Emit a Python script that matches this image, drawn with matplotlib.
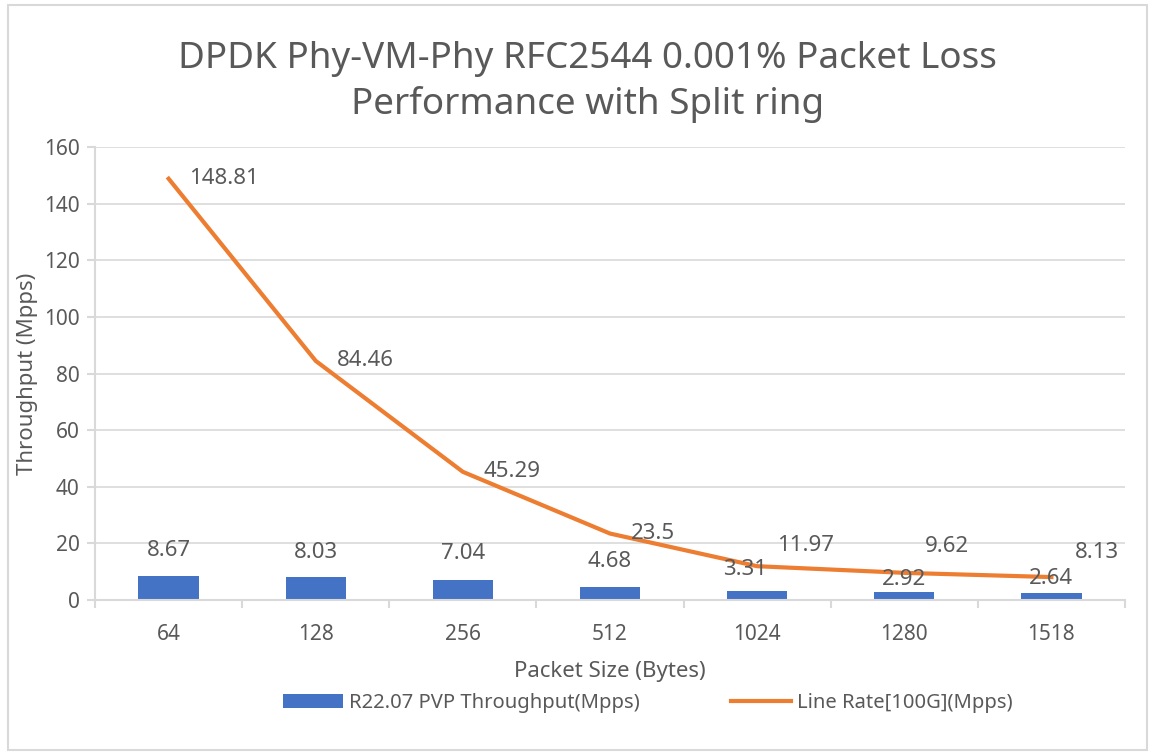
import matplotlib.pyplot as plt
from matplotlib.patches import Rectangle

plt.rcParams['font.family'] = ['Noto Sans', 'DejaVu Sans']

packet_sizes = ["64", "128", "256", "512", "1024", "1280", "1518"]
throughput = [8.67, 8.03, 7.04, 4.68, 3.31, 2.92, 2.64]
line_rate = [148.81, 84.46, 45.29, 23.5, 11.97, 9.62, 8.13]

text_color = '#595959'
grid_color = '#D9D9D9'
bar_color = '#4472C4'
line_color = '#ED7D31'

fig = plt.figure(figsize=(11.55, 7.52), dpi=100)
ax = fig.add_axes([0.0823, 0.202, 0.8917, 0.6025])

x = range(len(packet_sizes))
rects = ax.bar(x, throughput, width=0.41, color=bar_color, zorder=2,
               label='R22.07 PVP Throughput(Mpps)')
ax.plot(x, line_rate, color=line_color, linewidth=3, zorder=3,
        label='Line Rate[100G](Mpps)')

# data labels (offsets in points, tweaked like the original chart)
bar_offsets = [(0, 18), (0, 18), (0, 19), (0, 18), (-9, 15), (0, 9), (0, 10)]
for i, rect in enumerate(rects):
    ax.annotate(f'{throughput[i]:g}',
                xy=(rect.get_x() + rect.get_width() / 2, rect.get_height()),
                xytext=bar_offsets[i], textcoords='offset points',
                ha='center', va='center', fontsize=16, color=text_color, zorder=4)

line_offsets = [(15, 0), (15, 0), (15, 0), (15, 0), (14, 15), (15, 19), (17, 18)]
for i, v in enumerate(line_rate):
    ax.annotate(f'{v:g}', xy=(i, v), xytext=line_offsets[i],
                textcoords='offset points', ha='left', va='center',
                fontsize=16, color=text_color, zorder=4)

ax.set_xlim(-0.5, len(packet_sizes) - 0.5)
ax.set_ylim(0, 160)
ax.set_yticks(range(0, 161, 20))
ax.set_xticks(list(x))
ax.set_xticklabels(packet_sizes)
ax.set_xticks([i + 0.5 for i in range(-1, len(packet_sizes))], minor=True)
ax.tick_params(axis='x', which='major', length=0, pad=17, labelsize=15, labelcolor=text_color)
ax.tick_params(axis='x', which='minor', length=6, color=grid_color, width=1.5)
ax.tick_params(axis='y', length=6, color=grid_color, width=1.5, pad=5,
               labelsize=15, labelcolor=text_color)
ax.grid(axis='y', color=grid_color, linewidth=1.2, zorder=0)
for side in ['top', 'right']:
    ax.spines[side].set_visible(False)
for side in ['left', 'bottom']:
    ax.spines[side].set_color(grid_color)
    ax.spines[side].set_linewidth(1.5)

ax.set_xlabel('Packet Size (Bytes)', fontsize=16, color=text_color, labelpad=12)
ax.set_ylabel('Throughput (Mpps)', fontsize=16, color=text_color, labelpad=4)

fig.suptitle('DPDK Phy-VM-Phy RFC2544 0.001% Packet Loss\nPerformance with Split ring',
             fontsize=26.5, color=text_color, x=0.509, y=0.891, va='center',
             linespacing=1.35)

fig.legend(loc='center', bbox_to_anchor=(0.561, 0.065), ncol=2, frameon=False,
           fontsize=14.5, labelcolor=text_color, handlelength=3.0, columnspacing=4.5,
           handletextpad=0.3, reverse=True)

fig.patches.append(Rectangle((0.007, 0.003), 0.986, 0.99, transform=fig.transFigure,
                             fill=False, edgecolor='#D9D9D9', linewidth=1.5))

fig.savefig('out.png', dpi=100)
